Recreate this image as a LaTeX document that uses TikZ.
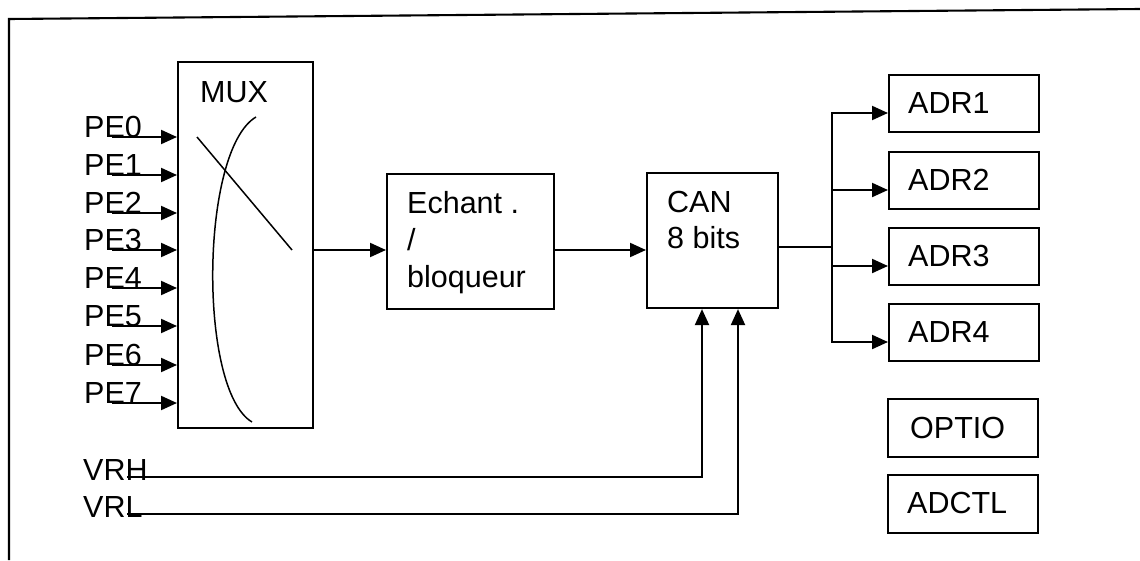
\documentclass[tikz,border=0pt]{standalone}
\usepackage{fontspec}
\setmainfont{Liberation Sans}
\usetikzlibrary{arrows.meta}
\begin{document}
\begin{tikzpicture}[x=1pt,y=-1pt,
  box/.style={draw, line width=2.1pt, inner sep=0pt, anchor=north west},
  lbl/.style={anchor=base west, inner sep=0pt, font=\fontsize{30.5}{36}\selectfont},
  wire/.style={line width=2.1pt},
  thin/.style={line width=1.5pt},
  arr/.style={wire, -{Triangle[length=16pt,width=14pt]}}]
\useasboundingbox (0,0) rectangle (1140,560);
% frame
\draw[wire] (9,560) -- (9,19) -- (1140,9);
% MUX
\node[box, minimum width=135pt, minimum height=366pt] (mux) at (177,61) {};
\node[lbl] (muxl) at (200,102) {MUX};
\draw[thin] (256,117) .. controls (200,150) and (198,390) .. (252,422);
\draw[thin] (197,137) -- (292,250);
\foreach \i/\y in {0/137,1/175,2/213,3/250,4/288,5/326,6/365,7/403}{
  \node[lbl] (pe\i) at (84,\y) {PE\i};
  \coordinate (pes\i) at (112,\y);
  \draw[arr] (pes\i) -- (mux.west |- pes\i);
}
% Echant
\node[box, minimum width=167pt, minimum height=135pt] (ech) at (386,173) {};
\node[lbl] (ech1) at (407,213) {Echant .};
\node[lbl] (ech2) at (407,250) {/};
\node[lbl] (ech3) at (407,287) {bloqueur};
\draw[arr] (mux.east |- pes3) -- (ech.west |- pes3);
% CAN
\node[box, minimum width=131pt, minimum height=135pt] (can) at (646,172) {};
\node[lbl] (can1) at (667,212) {CAN};
\node[lbl] (can2) at (667,248) {8 bits};
\draw[arr] (ech.east |- pes3) -- (can.west |- pes3);
% ADR
\coordinate (bus) at (832,247);
\draw[wire] (can.east |- bus) -- (bus);
\foreach \i/\t in {1/74,2/151,3/227,4/303}{
  \node[box, minimum width=150pt, minimum height=57pt] (adr\i) at (888,\t) {};
  \node[lbl] (adrl\i) at (908,\t+39) {ADR\i};
  \draw[arr] (bus) |- (adr\i.west |- adrl\i.base);
}
\node[box, minimum width=150pt, minimum height=58pt] (optio) at (887,398) {};
\node[lbl] (optiol) at (910,438) {OPTIO};
\node[box, minimum width=150pt, minimum height=58pt] (adctl) at (887,474) {};
\node[lbl] (adctll) at (907,513) {ADCTL};
% VRH / VRL
\node[lbl] (vrh) at (83,480) {VRH};
\node[lbl] (vrl) at (83,517) {VRL};
\coordinate (vrhs) at (127,477);
\coordinate (vrls) at (127,514);
\draw[arr] (vrhs) -| ([xshift=56pt]can.south west);
\draw[arr] (vrls) -| ([xshift=92pt]can.south west);
\end{tikzpicture}
\end{document}
